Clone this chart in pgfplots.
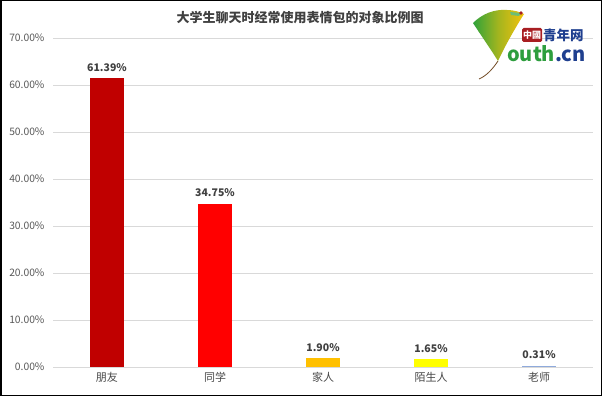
\documentclass[border=0pt]{standalone}
\usepackage{pgfplots}
\pgfplotsset{compat=1.18}
\usepackage{fontspec}
\setmainfont{Noto Sans CJK SC}
\definecolor{titlec}{HTML}{404040}
\definecolor{tickc}{HTML}{595959}
\definecolor{gridc}{HTML}{D9D9D9}
\definecolor{c1}{HTML}{C00000}
\definecolor{c2}{HTML}{FF0000}
\definecolor{c3}{HTML}{FFC000}
\definecolor{c4}{HTML}{FFFF00}
\definecolor{c5}{HTML}{8FAADC}
\definecolor{leafg}{HTML}{2FA23A}
\definecolor{leafy}{HTML}{F3C20C}
\definecolor{navy}{HTML}{1F3F8F}
\definecolor{logored}{HTML}{A81E22}
\definecolor{logogreen}{HTML}{2E9E3E}
\begin{document}
\begin{tikzpicture}
\useasboundingbox (0,0) rectangle (602pt,396pt);
\fill[white] (0,0) rectangle (602pt,396pt);
\begin{axis}[
  at={(53pt,29pt)}, anchor=south west,
  scale only axis, width=540pt, height=329pt,
  xmin=-0.5, xmax=4.5, ymin=0, ymax=70,
  axis line style={draw=none},
  /pgf/number format/assume math mode=true,
  ytick={0,10,...,70},
  ymajorgrids, grid style={gridc, line width=0.8pt},
  major tick length=0pt,
  yticklabel={\pgfmathprintnumber[fixed,precision=2,fixed zerofill]{\tick}\%},
  yticklabel style={font=\fontsize{10.3}{12}\selectfont, text=tickc, xshift=-5pt},
  xtick={0,1,2,3,4},
  xticklabels={朋友,同学,家人,陌生人,老师},
  xticklabel style={font=\fontsize{11}{13}\selectfont, text=tickc!80!black, yshift=-2pt},
  ybar, bar width=34pt, bar shift=0pt,
  nodes near coords={\pgfmathprintnumber[fixed,precision=2,fixed zerofill]{\pgfplotspointmeta}\%},
  nodes near coords style={font=\bfseries\fontsize{10.5}{12}\selectfont, text=titlec, yshift=3pt},
  clip=false,
]
\addplot[fill=c1, draw=none] coordinates {(0,61.39)};
\addplot[fill=c2, draw=none] coordinates {(1,34.75)};
\addplot[fill=c3, draw=none] coordinates {(2,1.90)};
\addplot[fill=c4, draw=none] coordinates {(3,1.65)};
\addplot[fill=c5, draw=none] coordinates {(4,0.31)};
\end{axis}
\node[font=\bfseries\fontsize{13}{15}\selectfont, text=titlec] at (300pt,378pt) {大学生聊天时经常使用表情包的对象比例图};
% logo
\shade[left color=leafg, right color=leafy, middle color=leafg!40!leafy]
  (473pt,373pt) .. controls (482pt,382pt) and (494pt,387pt) .. (507pt,386pt)
  .. controls (514pt,386pt) and (520pt,384pt) .. (524pt,382pt)
  .. controls (514pt,366pt) and (505pt,350pt) .. (498pt,335pt)
  .. controls (490pt,348pt) and (480pt,362pt) .. cycle;
\fill[leafg!70!white] (510pt,384pt) -- (521pt,383pt) -- (519pt,380pt) -- (511pt,381pt) -- cycle;
\fill[logored] (521pt,383pt) circle (1.8pt);
\draw[brown!60!black, line width=0.8pt] (498pt,335pt) .. controls (492pt,326pt) and (486pt,320pt) .. (479pt,317pt);
\fill[logored, rounded corners=1.5pt] (522pt,354pt) rectangle (542pt,368pt);
\node[text=white, font=\bfseries\fontsize{9}{10}\selectfont, inner sep=0pt] at (532pt,361pt) {中國};
\node[text=navy, font=\bfseries\fontsize{13.5}{15}\selectfont, anchor=west, inner sep=0pt] at (543pt,361pt) {青年网};
\node[font=\bfseries\fontsize{20}{22}\selectfont, anchor=base west, inner sep=0pt] at (507pt,334pt) {\textcolor{logogreen}{outh}\textcolor{navy}{.cn}};
\draw[black, line width=1.5pt] (0.75pt,0.75pt) rectangle (601.25pt,395.25pt);
\end{tikzpicture}
\end{document}
